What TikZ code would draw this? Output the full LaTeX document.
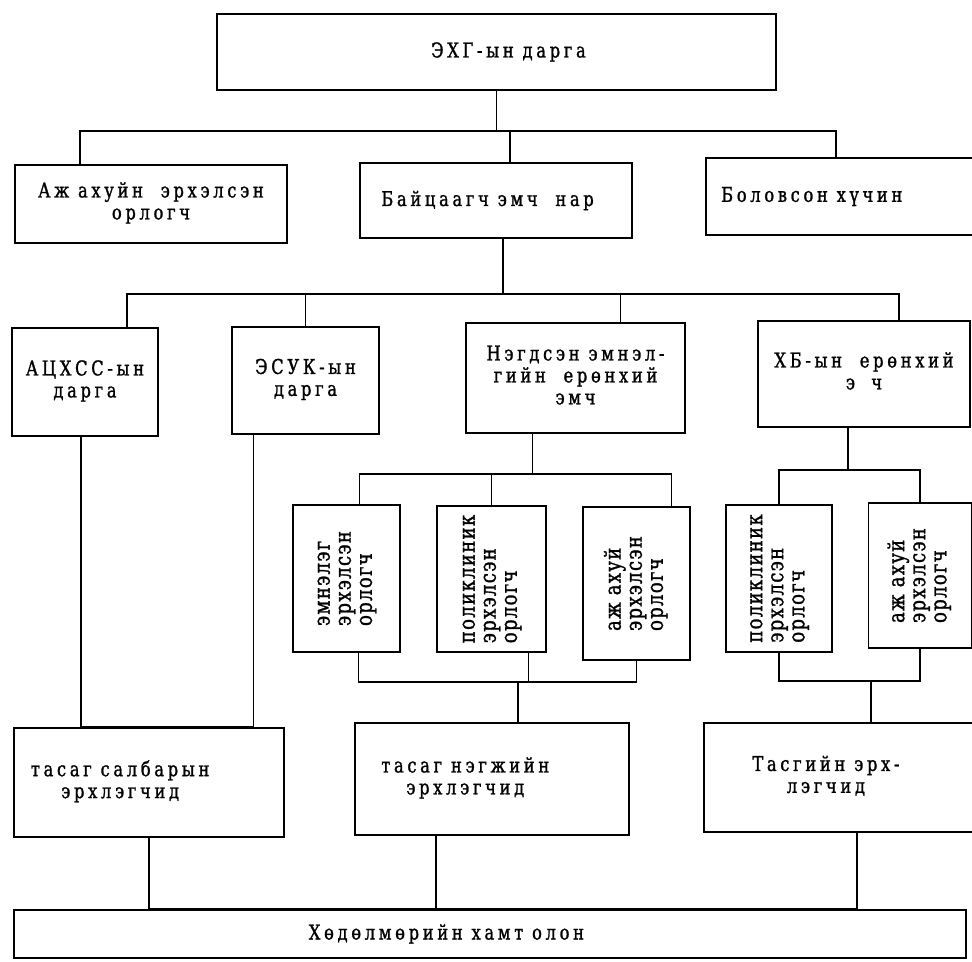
\documentclass[tikz,border=0pt]{standalone}
\usepackage{fontspec}
\setmainfont{DejaVu Serif}[FakeStretch=0.8,FakeBold=1.2,LetterSpace=18]
\newfontfamily\standfont{DejaVu Serif}[FakeStretch=0.8,FakeBold=1.2,LetterSpace=6]
\usetikzlibrary{calc}

\begin{document}
\begin{tikzpicture}[x=0.025cm,y=-0.025cm,line width=1.4pt,font=\fontsize{14.5}{15.6}\selectfont]
\tikzset{
% Two box styles for the chart: lying text and standing text
box/.style={draw,rectangle,inner sep=1},
stand box/.style={box,font=\standfont\fontsize{16}{15}\selectfont},
box size/.style 2 args={minimum width=#1*0.025cm,minimum height=#2*0.025cm}
}
\useasboundingbox (0,0) rectangle (972,961);

% The boxes, row by row
\node[box,box size={559}{76}] (head) at (496.5,52) {\null\hspace{17pt}ЭХГ-ын дарга};

\node[box,box size={272}{78}] (deputy) at (151,204) {\begin{tabular}{@{}c@{}}
Аж ахуйн\ \ эрхэлсэн\\ орлогч
\end{tabular}};
\node[box,box size={272}{75}] (inspect) at (496,200.5) {Байцаагч эмч\ \ нар\hspace{12pt}\null};
\node[box,box size={272}{77}] (staff) at (842,196.5) {Боловсон хүчин\hspace{43pt}\null};

\node[box,box size={146}{108}] (achxss) at (85,382) {\begin{tabular}{@{}c@{}}
АЦХСС-ын\\ дарга
\end{tabular}};
\node[box,box size={147}{107}] (esuk) at (305.5,380.5) {\begin{tabular}{@{}c@{}}
ЭСУК-ын\\ дарга
\end{tabular}};
\node[box,box size={219}{110}] (hosp) at (575.5,378) {\begin{tabular}{@{}c@{}}
Нэгдсэн эмнэл-\\ гийн\ \ ерөнхий\\ эмч
\end{tabular}};
\node[box,box size={212}{106}] (hb) at (864,374) {\begin{tabular}{@{}c@{}}
ХБ-ын\ \ ерөнхий\\ э\hspace{0.8em}ч
\end{tabular}};

\node[stand box,box size={107}{147}] (hosp1) at (346.5,578.5) {\rotatebox{90}{\begin{tabular}{@{}l@{}}
эмнэлэг\\ эрхэлсэн\\ орлогч
\end{tabular}}};
\node[stand box,box size={109}{146}] (hosp2) at (491.5,579) {\rotatebox{90}{\begin{tabular}{@{}l@{}}
поликлиник\\ эрхэлсэн\\ орлогч
\end{tabular}}};
\node[stand box,box size={107}{153}] (hosp3) at (636.5,583.5) {\rotatebox{90}{\begin{tabular}{@{}l@{}}
аж ахуй\\ эрхэлсэн\\ орлогч
\end{tabular}}};
\node[stand box,box size={106}{147}] (hb1) at (779,578.5) {\rotatebox{90}{\begin{tabular}{@{}l@{}}
поликлиник\\ эрхэлсэн\\ орлогч
\end{tabular}}};
\node[stand box,box size={103}{145}] (hb2) at (920,575.5) {\rotatebox{90}{\begin{tabular}{@{}l@{}}
аж ахуй\\ эрхэлсэн\\ орлогч
\end{tabular}}};

\node[box,box size={270}{109}] (sect) at (149,782.5) {\begin{tabular}{@{}c@{}}
тасаг салбарын\\ эрхлэгчид
\end{tabular}\hspace{41pt}\null};
\node[box,box size={274}{112}] (unit) at (492,779) {\begin{tabular}{@{}c@{}}
тасаг нэгжийн\\ эрхлэгчид
\end{tabular}\hspace{38pt}\null};
\node[box,box size={272}{109}] (dept) at (840,777.5) {\begin{tabular}{@{}c@{}}
Тасгийн эрх-\\ лэгчид
\end{tabular}\hspace{20pt}\null};

\node[box,box size={952}{48}] (crew) at (490,934) {Хөдөлмөрийн хамт олон\hspace{62pt}\null};

% first level
\coordinate (bus1) at ($(head.south)+(0,40)$);
\draw (head.south) -- (bus1);
\draw ($(deputy.north)+(-71,0)$) |- (bus1) -| ($(staff.north)+(-6,0)$);
\draw ($(inspect.north)+(14,0)$) |- (bus1);

% second level
\coordinate (bus2) at ($(inspect.south)+(7,55)$);
\draw ($(inspect.south)+(7,0)$) -- (bus2);
\draw ($(achxss.north)+(42,0)$) |- (bus2) -| ($(hb.north)+(35,0)$);
\draw (esuk.north) |- (bus2);
\draw ($(hosp.north)+(45,0)$) |- (bus2);

% long lines down to the section heads
\draw ($(achxss.south)+(-4,0)$) |- (sect.north);
\draw ($(esuk.south)+(-52,0)$) |- (sect.north);

% deputies of the hospital
\coordinate (bus3) at ($(hosp.south)+(-43,40)$);
\draw ($(hosp.south)+(-43,0)$) -- (bus3);
\draw ($(hosp1.north)+(13,0)$) |- (bus3) -| ($(hosp3.north)+(35,0)$);
\draw (hosp2.north) |- (bus3);

\coordinate (bus4) at ($(hb.south)+(-16,42)$);
\draw ($(hb.south)+(-16,0)$) -- (bus4);
\draw (hb1.north) |- (bus4) -| (hb2.north);

% deputies down to the heads
\coordinate (bus5) at ($(unit.north)+(26,-40)$);
\draw (bus5) -- ($(unit.north)+(26,0)$);
\draw ($(hosp1.south)+(12,0)$) |- (bus5) -| (hosp3.south);
\draw ($(hosp2.south)+(37,0)$) |- (bus5);

\coordinate (bus6) at ($(dept.north)+(31,-41)$);
\draw (bus6) -- ($(dept.north)+(31,0)$);
\draw (hb1.south) |- (bus6) -| (hb2.south);

% heads down to the staff
\draw (sect.south) |- (crew.north);
\draw ($(unit.south)+(-56,0)$) |- (crew.north);
\draw ($(dept.south)+(17,0)$) |- (crew.north);
\end{tikzpicture}
\end{document}
